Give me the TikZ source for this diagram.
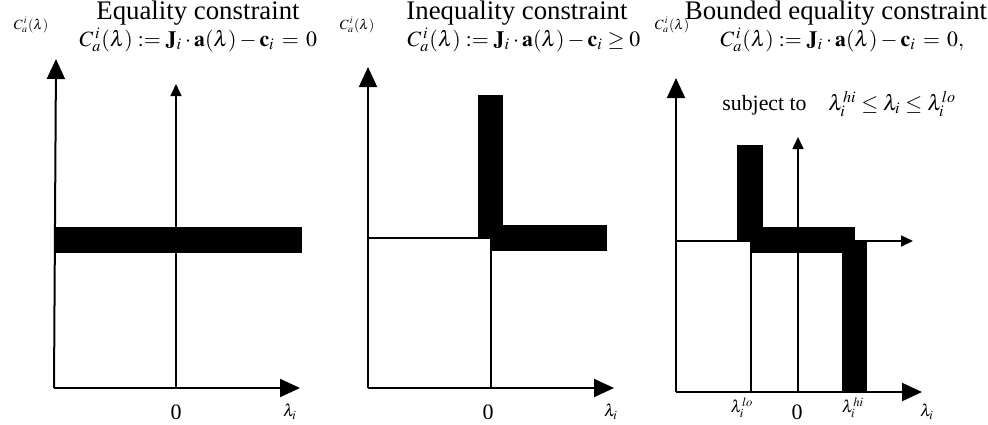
\documentclass[tikz,border=0pt]{standalone}
\usepackage{amsmath}
\usepackage{mathptmx}
\usepackage[no-math]{fontspec}
\setmainfont{Liberation Serif}
\usetikzlibrary{arrows.meta}

\tikzset{
  axis/.style={line width=1pt,-{Triangle[length=10pt,width=9pt]}},
  subaxis/.style={line width=0.8pt,-{Triangle[length=6pt,width=5.5pt]}},
  guide/.style={line width=0.6pt},
  band/.style={line width=12.8pt},
  title/.style={inner sep=0pt,font=\fontsize{13.4}{15}\selectfont},
  formula/.style={anchor=west,inner sep=0pt,font=\fontsize{10.9}{13}\selectfont},
  tag/.style={inner sep=0pt,font=\fontsize{7}{8}\selectfont},
  axlabel/.style={inner sep=0pt,font=\fontsize{8.5}{10}\selectfont},
  tick/.style={inner sep=0pt,font=\fontsize{11}{13}\selectfont}
}

\begin{document}
\begin{tikzpicture}[x=0.5pt,y=-0.5pt]
  \useasboundingbox (0,0) rectangle (988,424);

  % equality constraint
  \node[title] (t1) at (198,13) {Equality constraint};
  \node[tag] (c1) at (31,25) {$C_a^{\,i}(\boldsymbol{\lambda})$};
  \node[formula] (f1) at (79,40)
    {$C_a^{\,i}(\boldsymbol{\lambda}) := \mathbf{J}_i \cdot \mathbf{a}(\lambda) - \mathbf{c}_i \,=\, 0$};
  \coordinate (o1) at (54,388);
  \coordinate (z1) at (176,388);
  \draw[band] (54,240) -- (302,240);
  \draw[axis] (o1) -- (56,59);
  \draw[axis] (o1) -- (300,388);
  \draw[subaxis] (z1) -- (176,84);
  \node[tick] (n1) at (176,412) {0};
  \node[axlabel] (l1) at (290,412) {$\lambda_i$};

  % inequality constraint
  \node[title] (t2) at (517,13) {Inequality constraint};
  \node[tag] (c2) at (357,25) {$C_a^{\,i}(\boldsymbol{\lambda})$};
  \node[formula] (f2) at (407,40)
    {$C_a^{\,i}(\boldsymbol{\lambda}) := \mathbf{J}_i \cdot \mathbf{a}(\lambda) - \mathbf{c}_i \geq 0$};
  \coordinate (o2) at (368,388);
  \coordinate (z2) at (491,388);
  \draw[guide] (368,238) -- (491,238) -- (z2);
  \draw[band] (490.5,95) -- (490.5,238);
  \draw[band] (490.5,238) -- (607,238);
  \draw[axis] (o2) -- (368,67);
  \draw[axis] (o2) -- (614,388);
  \node[tick] (n2) at (488,412) {0};
  \node[axlabel] (l2) at (611,412) {$\lambda_i$};

  % bounded equality constraint
  \node[title] (t3) at (836,13) {Bounded equality constraint};
  \node[tag] (c3) at (672,25) {$C_a^{\,i}(\boldsymbol{\lambda})$};
  \node[formula] (f3) at (720,40)
    {$C_a^{\,i}(\boldsymbol{\lambda}) := \mathbf{J}_i \cdot \mathbf{a}(\lambda) - \mathbf{c}_i \,=\, 0,$};
  \node[formula] (s3) at (722,104)
    {subject to\quad$\lambda_i^{hi} \leq \lambda_i \leq \lambda_i^{lo}$};
  \coordinate (o3) at (676,392);
  \coordinate (z3) at (798,392);
  \coordinate (m3) at (676,241);
  \draw[guide] (751,253) -- (751,392);
  \draw[band] (750,145) -- (750,240);
  \draw[band] (750,240) -- (854.5,240);
  \draw[band] (854.5,240) -- (854.5,392);
  \draw[axis] (o3) -- (676,78);
  \draw[axis] (o3) -- (922,392);
  \draw[subaxis] (m3) -- (913,241);
  \draw[subaxis] (z3) -- (798,137);
  \node[axlabel] (lo3) at (742,408) {$\lambda_i^{lo}$};
  \node[tick] (n3) at (797,412) {0};
  \node[axlabel] (hi3) at (853,408) {$\lambda_i^{hi}$};
  \node[axlabel] (l3) at (927,412) {$\lambda_i$};
\end{tikzpicture}
\end{document}
